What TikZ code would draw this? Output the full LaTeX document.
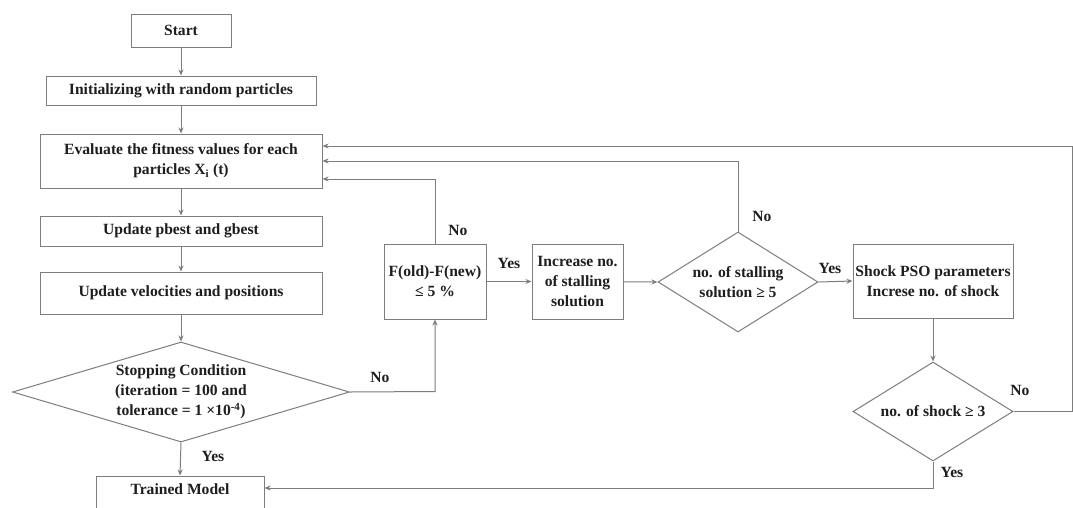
\documentclass[tikz,border=0pt]{standalone}
\usepackage{fontspec}
\setmainfont{Liberation Serif}
\usetikzlibrary{shapes.geometric,arrows.meta,positioning}

\definecolor{linegray}{RGB}{125,125,125}
\definecolor{textdark}{RGB}{30,30,30}

\tikzset{
  txt/.style={text=textdark, align=center, font=\fontsize{15.6}{20}\selectfont\bfseries},
  base/.style={draw=linegray, line width=1pt, txt, inner sep=2pt},
  procbox/.style={base, rectangle},
  % diamond sized only by its minimum dimensions; its text sits in a centred label
  decision/.style={draw=linegray, line width=1pt, diamond, inner sep=0pt,
                   label={[txt, inner sep=0pt]center:#1}},
  conn/.style={draw=linegray, line width=1pt},
  arr/.style={conn, -{Stealth[length=6pt,width=5pt]}},
  lbl/.style={txt, inner sep=0pt}
}

\begin{document}
\begin{tikzpicture}[x=1pt,y=-1pt]
  \useasboundingbox[fill=white] (0,0) rectangle (1073,507);

  % main column
  \node[procbox, minimum width=100pt, minimum height=33pt] (start) at (181,30.5) {Start};
  \node[procbox, minimum width=270pt, minimum height=29pt] (init) at (181,90.5) {Initializing with random particles};
  \node[procbox, minimum width=282pt, minimum height=54pt] (eval) at (181,161)
    {Evaluate the fitness values for each\\ particles X\textsubscript{i} (t)};
  \node[procbox, minimum width=282pt, minimum height=30pt] (pbest) at (181,231) {Update pbest and gbest};
  \node[procbox, minimum width=282pt, minimum height=42pt] (vel) at (181,293) {Update velocities and positions};
  \node[decision={Stopping Condition\\ (iteration = 100 and\\ tolerance = 1 ×10\textsuperscript{-4})},
        minimum width=337pt, minimum height=100pt] (stop) at (181,392) {};
  % runs past the lower edge of the page
  \node[procbox, minimum width=168pt, minimum height=34pt] (trained) at (180,493) {};
  \node[txt] (trainedtxt) at (180,489) {Trained Model};

  % stalling branch
  \node[procbox, minimum width=102pt, minimum height=75pt] (fbox) at (435,281.5) {F(old)-F(new)\\ ≤ 5 \%};
  \node[procbox, minimum width=91pt, minimum height=75pt] (inc) at (577.5,281.5) {Increase no.\\ of stalling\\ solution};
  \node[decision={no. of stalling\\ solution ≥ 5}, minimum width=160pt, minimum height=100pt] (stall) at (738,282) {};
  \node[procbox, minimum width=160pt, minimum height=74pt] (shock) at (933,281) {Shock PSO parameters\\ Increse no. of shock};
  \node[decision={no. of shock ≥ 3}, minimum width=160pt, minimum height=99pt] (shockd) at (933,411.5) {};

  \coordinate (edgeR) at (1072,146);
  \coordinate (bendF) at (435,391.5);

  % straight flow
  \draw[arr] (start) -- (init);
  \draw[arr] (init) -- (eval);
  \draw[arr] (eval) -- (pbest);
  \draw[arr] (pbest) -- (vel);
  \draw[arr] (vel) -- (stop.north);
  \draw[arr] (stop.south) -- (trained.north);

  % loops and branches
  \draw[arr] (stop.east) -- (bendF) -- (fbox.south);
  \draw[arr] (fbox.north) |- ([yshift=-18pt]eval.east);
  \draw[arr] (fbox) -- (inc);
  \draw[arr] (inc) -- (stall.west);
  \draw[arr] (stall.north) |- (eval.east);
  \draw[arr] (stall.east) -- (shock.west);
  \draw[arr] (shock) -- (shockd.north);
  \draw[arr] (shockd.east) -| (edgeR) -- ([yshift=15pt]eval.east);
  \draw[arr] (shockd.south) |- ([yshift=5pt]trained.east);

  % branch labels
  \node[lbl] (yes1) at (213,456) {Yes};
  \node[lbl] (no1) at (380,377) {No};
  \node[lbl] (no2) at (458,230) {No};
  \node[lbl] (yes2) at (509,263) {Yes};
  \node[lbl] (no3) at (762,216) {No};
  \node[lbl] (yes3) at (830,268) {Yes};
  \node[lbl] (no4) at (1020,390) {No};
  \node[lbl] (yes4) at (952,472) {Yes};
\end{tikzpicture}
\end{document}
